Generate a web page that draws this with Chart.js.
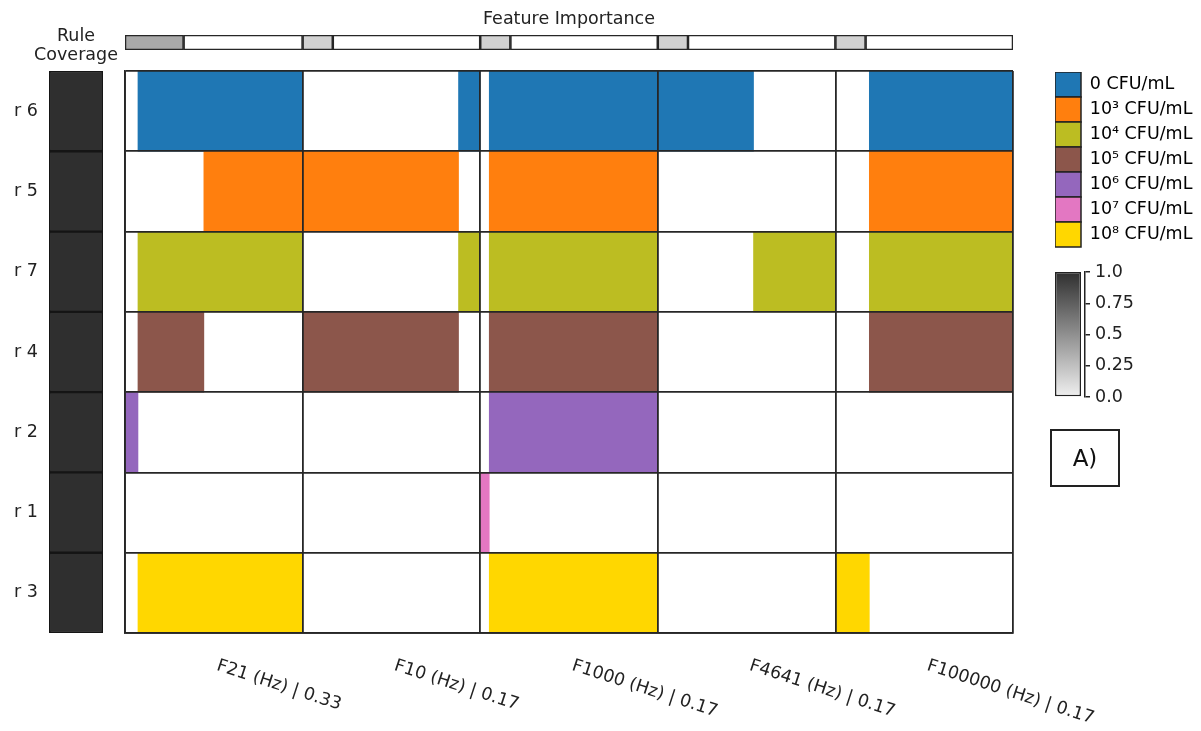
<!DOCTYPE html>
<html>
<head>
<meta charset="utf-8">
<script src="https://cdn.jsdelivr.net/npm/chart.js@4"></script>
<style>
  body { margin: 0; background: #fff; width: 1201px; height: 731px; position: relative; overflow: hidden; }
  canvas { position: absolute; }
  #tag {
    position: absolute; left: 1050px; top: 429px; width: 66px; height: 54px;
    border: 2px solid #222; font: 23px "DejaVu Sans", sans-serif; color: #111;
    display: flex; align-items: center; justify-content: center;
  }
</style>
</head>
<body>
<canvas id="main" width="1201" height="731" style="left:0;top:0"></canvas>
<canvas id="imp" width="1201" height="60" style="left:0;top:0"></canvas>
<canvas id="cov" width="152" height="731" style="left:0;top:0"></canvas>
<canvas id="leg" width="340" height="200" style="left:1050px;top:66px"></canvas>
<canvas id="cbar" width="160" height="160" style="left:1040px;top:255px"></canvas>
<div id="tag">A)</div>
<script>
const rules = ['r 6', 'r 5', 'r 7', 'r 4', 'r 2', 'r 1', 'r 3'];
const ruleClass = [0, 1, 2, 3, 4, 5, 6];
const ruleCoverage = [1, 1, 1, 1, 1, 1, 1];
const features = ['F21 (Hz)', 'F10 (Hz)', 'F1000 (Hz)', 'F4641 (Hz)', 'F100000 (Hz)'];
const importance = [0.33, 0.17, 0.17, 0.17, 0.17];
const classNames = ['0 CFU/mL', '10³ CFU/mL', '10⁴ CFU/mL', '10⁵ CFU/mL', '10⁶ CFU/mL', '10⁷ CFU/mL', '10⁸ CFU/mL'];
const classColors = ['#1f77b4', '#ff7f0e', '#bcbd22', '#8c564b', '#9467bd', '#e377c2', '#ffd700'];

// interval each rule covers inside a feature's range (0 = min, 1 = max), null = not used
const f21     = [[0.073, 1], [0.444, 1], [0.073, 1], [0.073, 0.444], [0, 0.073], null, [0.073, 1]];
const f10     = [[0.878, 1], [0, 0.878], [0.878, 1], [0, 0.878], null, null, null];
const f1000   = [[0.051, 1], [0.051, 1], [0.051, 1], [0.051, 1], [0.051, 1], [0, 0.051], [0.051, 1]];
const f4641   = [[0, 0.539], null, [0.539, 1], null, null, null, null];
const f100000 = [[0.191, 1], [0.191, 1], [0.191, 1], [0.191, 1], null, null, [0, 0.191]];

const colorbarTicks = ['0.0', '0.25', '0.5', '0.75', '1.0'];

Chart.defaults.font.family = "'DejaVu Sans', sans-serif";
Chart.defaults.font.size = 17.5;
Chart.defaults.color = '#222';

const line = '#262626';
const intervals = [f21, f10, f1000, f4641, f100000];

function importanceGrey(v) {
    const c = Math.round(255 - 262 * v);
    return `rgb(${c},${c},${c})`;
}
function coverageGrey(v) {
    const c = Math.round(240 - 193 * v);
    return `rgb(${c},${c},${c})`;
}

// slanted feature names under the matrix
const featureLabels = {
    id: 'featureLabels',
    afterDraw(chart) {
        const ctx = chart.ctx;
        const x = chart.scales.x;
        ctx.save();
        ctx.font = "17.5px 'DejaVu Sans'";
        ctx.fillStyle = '#222';
        ctx.textBaseline = 'top';
        ctx.textAlign = 'left';
        features.forEach((f, i) => {
            ctx.save();
            ctx.translate(x.getPixelForValue(i + 0.5) + 6, chart.chartArea.bottom + 24);
            ctx.rotate(18 * Math.PI / 180);
            ctx.fillText(f + ' | ' + importance[i].toFixed(2), 0, 0);
            ctx.restore();
        });
        ctx.restore();
    }
};

new Chart(document.getElementById('main'), {
    type: 'bar',
    data: {
        labels: rules,
        datasets: intervals.map((iv, f) => ({
            label: features[f],
            data: iv.map(r => r ? [f + r[0], f + r[1]] : null),
            backgroundColor: ruleClass.map(c => classColors[c]),
            borderWidth: 0,
            barPercentage: 1,
            categoryPercentage: 1,
            grouped: false
        }))
    },
    options: {
        indexAxis: 'y',
        responsive: false,
        animation: false,
        layout: { padding: { left: 125, top: 71, right: 188, bottom: 98 } },
        plugins: { legend: { display: false }, tooltip: { enabled: false } },
        scales: {
            x: {
                type: 'linear', min: 0, max: 5,
                ticks: { display: false, stepSize: 1 },
                grid: { color: line, lineWidth: 1.8, drawTicks: false, z: 1 },
                border: { color: line, width: 1.8, z: 1 },
                afterFit(s) { s.height = 0; }
            },
            y: {
                ticks: { display: false },
                grid: { color: line, lineWidth: 1.8, drawTicks: false, offset: true, z: 1 },
                border: { color: line, width: 1.8, z: 1 },
                afterFit(s) { s.width = 0; }
            }
        }
    },
    plugins: [featureLabels]
});

// feature importance strip
new Chart(document.getElementById('imp'), {
    type: 'bar',
    data: {
        labels: ['importance'],
        datasets: features.flatMap((f, i) => [
            { label: f, data: [[i, i + importance[i]]], backgroundColor: importanceGrey(importance[i]) },
            { label: f + ' rest', data: [[i + importance[i], i + 1]], backgroundColor: '#fff' }
        ]).map(d => Object.assign(d, {
            borderColor: line, borderWidth: 1.6, borderSkipped: false,
            barPercentage: 1, categoryPercentage: 1, grouped: false
        }))
    },
    options: {
        indexAxis: 'y',
        responsive: false,
        animation: false,
        layout: { padding: { left: 125, right: 188, top: 0, bottom: 10 } },
        plugins: {
            legend: { display: false },
            tooltip: { enabled: false },
            title: {
                display: true, text: 'Feature Importance', color: '#222',
                font: { size: 17.5, weight: 'normal' }, padding: { top: 9, bottom: 5 }
            }
        },
        scales: {
            x: { type: 'linear', min: 0, max: 5, display: false },
            y: { display: false }
        }
    }
});

// rule coverage column
new Chart(document.getElementById('cov'), {
    type: 'bar',
    data: {
        labels: rules,
        datasets: [{
            label: 'Rule Coverage',
            data: ruleCoverage,
            backgroundColor: ruleCoverage.map(coverageGrey),
            borderColor: '#151515', borderWidth: 1.5, borderSkipped: false,
            barPercentage: 1, categoryPercentage: 1
        }]
    },
    options: {
        indexAxis: 'y',
        responsive: false,
        animation: false,
        layout: { padding: { left: 0, right: 0, top: 0, bottom: 98 } },
        plugins: {
            legend: { display: false },
            tooltip: { enabled: false },
            title: {
                display: true, text: ['Rule', 'Coverage'], color: '#222',
                font: { size: 17.5, weight: 'normal', lineHeight: 1.1 },
                padding: { top: 27, bottom: 5.5 }
            }
        },
        scales: {
            x: { min: 0, max: 1, display: false },
            y: {
                ticks: { padding: 11, color: '#222' },
                grid: { display: false, drawTicks: false },
                border: { display: false },
                afterFit(s) { s.width = 49; }
            },
            yRight: {
                type: 'category', position: 'right',
                ticks: { display: false },
                grid: { display: false, drawTicks: false },
                border: { display: false },
                afterFit(s) { s.width = 49; }
            }
        }
    }
});

// class legend
new Chart(document.getElementById('leg'), {
    type: 'bar',
    data: { labels: [], datasets: [] },
    options: {
        responsive: false,
        animation: false,
        layout: { padding: { left: 5, top: 6 } },
        plugins: {
            tooltip: { enabled: false },
            legend: {
                position: 'left',
                align: 'start',
                labels: {
                    boxWidth: 26, boxHeight: 25, padding: 0, color: '#222',
                    generateLabels: () => classNames.map((n, i) => ({
                        text: n, fillStyle: classColors[i], strokeStyle: '#222',
                        lineWidth: 1.5, hidden: false, datasetIndex: i
                    }))
                }
            }
        },
        scales: { x: { display: false }, y: { display: false } }
    }
});

// colour bar for coverage
new Chart(document.getElementById('cbar'), {
    type: 'bar',
    data: {
        labels: ['coverage'],
        datasets: [{
            data: [[0, 1]],
            backgroundColor(c) {
                const a = c.chart.chartArea;
                if (!a) return null;
                const g = c.chart.ctx.createLinearGradient(0, a.bottom, 0, a.top);
                g.addColorStop(0, coverageGrey(0));
                g.addColorStop(1, coverageGrey(1));
                return g;
            },
            borderColor: '#222', borderWidth: 1.5, borderSkipped: false,
            barPercentage: 26 / 34, categoryPercentage: 1
        }]
    },
    options: {
        responsive: false,
        animation: false,
        layout: { padding: { left: 11, top: 17, bottom: 18, right: 55 } },
        plugins: { legend: { display: false }, tooltip: { enabled: false } },
        scales: {
            x: { display: false },
            y: {
                position: 'right', min: 0, max: 1,
                ticks: { stepSize: 0.25, padding: 5, color: '#222', callback: (v, i) => colorbarTicks[i] },
                grid: { drawOnChartArea: false, drawTicks: true, tickLength: 5, color: '#222', lineWidth: 1.5 },
                border: { display: true, color: '#222', width: 1.5 },
                afterFit(s) { s.width = 60; }
            }
        }
    }
});
</script>
</body>
</html>
